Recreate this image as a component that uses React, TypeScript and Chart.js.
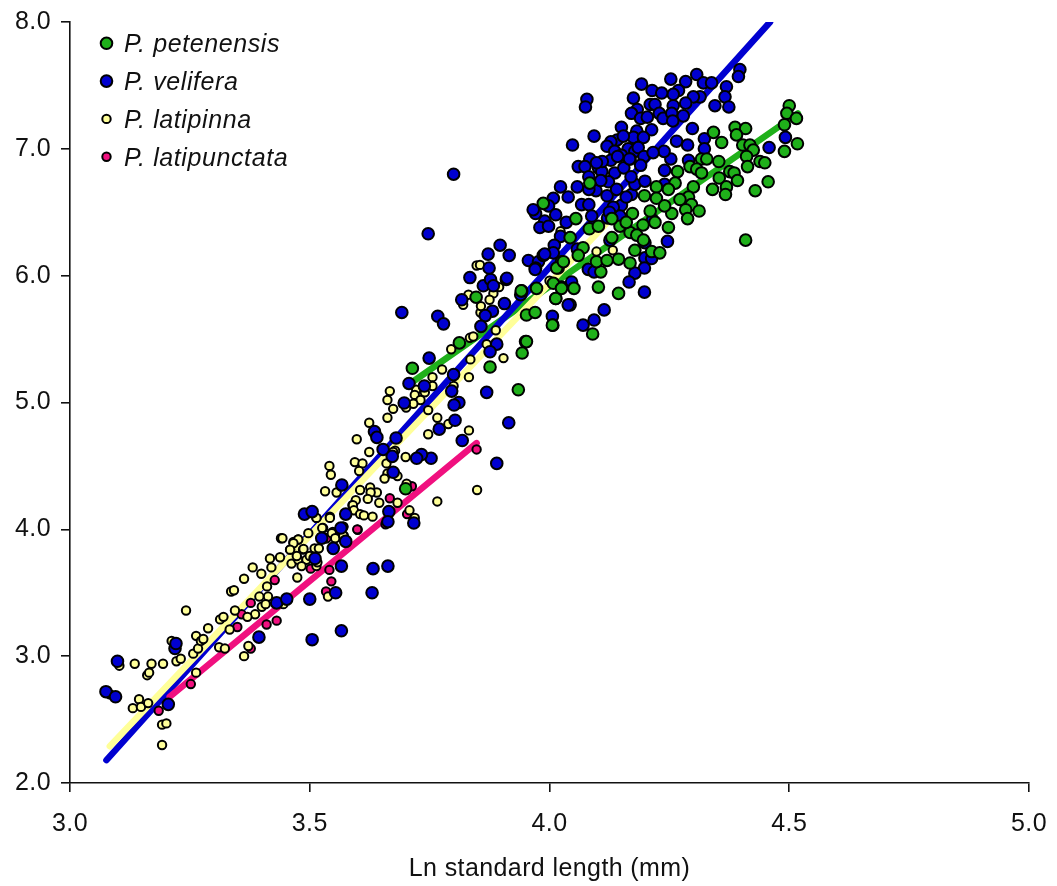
import React, { useEffect, useRef } from "react";
import { Chart, registerables } from "chart.js";

Chart.register(...registerables);

const xAxisTitle = "Ln standard length (mm)";
const speciesNames = ["P. petenensis", "P. velifera", "P. latipinna", "P. latipunctata"];
const speciesColors = ["#1fb01a", "#0000d0", "#ffff99", "#f0107f"];
const speciesRadius = [5.8, 5.8, 4.2, 4.2];

const petenensisPoints: number[][] = [
  [4.50,7.34],[4.495,7.28],[4.515,7.24],[4.49,7.19],[4.517,7.04],[4.49,6.98],[4.456,6.74],[4.429,6.67],[4.409,6.28],
  [4.342,7.13],[4.359,7.05],[4.387,7.17],[4.409,7.16],[4.39,7.11],[4.403,7.03],[4.418,7.03],[4.425,6.99],[4.411,6.94],
  [4.439,6.90],[4.449,6.89],[4.413,6.86],[4.353,6.90],[4.376,6.82],[4.385,6.81],[4.354,6.77],[4.392,6.75],[4.369,6.70],
  [4.34,6.68],[4.367,6.64],[4.317,6.92],[4.328,6.92],[4.293,6.86],[4.307,6.84],[4.267,6.82],[4.317,6.81],[4.262,6.73],
  [4.30,6.70],[4.223,6.70],[4.248,6.68],[4.198,6.63],[4.223,6.61],[4.29,6.62],[4.272,6.60],[4.296,6.56],[4.284,6.52],
  [4.312,6.51],[4.288,6.45],[4.255,6.49],[4.248,6.38],[4.173,6.49],[4.21,6.51],[4.147,6.39],[4.168,6.34],[4.182,6.32],
  [4.196,6.28],[4.178,6.20],[4.213,6.19],[4.23,6.18],[4.144,6.13],[4.168,6.10],[4.107,6.03],[4.102,5.91],[4.144,5.86],
  [4.051,5.90],[4.025,5.91],[4.013,5.82],[4.007,5.61],[3.952,5.69],[3.97,5.71],[4.09,5.54],[3.95,5.48],[4.055,6.45],
  [4.083,6.37],[4.102,6.39],[3.987,6.57],[4.084,6.73],[4.043,6.30],[4.018,6.06],[4.025,6.11],[4.098,6.11],[4.008,5.94],
  [3.973,5.90],[3.942,5.88],[3.847,5.83],[3.941,5.88],[4.013,5.82],[4.006,5.61],[3.952,5.48],[3.943,5.39],[3.876,5.28],
  [3.935,5.10],[3.812,5.47],[3.714,5.27],[3.70,4.32],[4.015,6.06],[4.029,6.11],[4.025,5.90],[4.16,6.42],[4.22,6.42],
  [4.13,6.30],[4.07,6.22],[4.06,6.16],[4.12,6.12],[4.195,6.40],[4.24,6.55],[4.13,6.45],
];

const veliferaPoints: number[][] = [
  [4.078,7.39],[4.075,7.33],[4.192,7.51],[4.214,7.46],[4.253,7.55],[4.284,7.53],[4.307,7.586],[4.321,7.52],[4.338,7.52],
  [4.397,7.625],[4.394,7.57],[4.369,7.49],[4.366,7.41],[4.345,7.34],[4.374,7.33],[4.314,7.41],[4.30,7.41],[4.284,7.36],
  [4.269,7.46],[4.258,7.43],[4.234,7.44],[4.175,7.40],[4.183,7.31],[4.21,7.35],[4.22,7.35],[4.258,7.34],[4.171,7.28],
  [4.19,7.24],[4.204,7.25],[4.229,7.28],[4.237,7.24],[4.255,7.28],[4.279,7.26],[4.257,7.22],[4.298,7.16],[4.213,7.15],
  [4.15,7.17],[4.093,7.10],[4.048,7.03],[4.182,7.14],[4.175,7.09],[4.196,7.09],[4.141,7.07],[4.128,7.055],[4.12,7.02],
  [4.136,6.98],[4.154,7.10],[4.164,7.0],[4.178,6.98],[4.185,7.01],[4.197,6.94],[4.168,6.92],[4.128,6.91],[4.084,6.92],
  [4.06,6.86],[4.074,6.86],[4.102,6.85],[4.109,6.82],[4.082,6.78],[4.136,6.81],[4.123,6.74],[4.097,6.67],[4.058,6.70],
  [4.023,6.70],[4.008,6.61],[3.998,6.55],[3.971,6.49],[4.013,6.48],[3.99,6.43],[3.98,6.38],[3.998,6.39],[4.067,6.56],
  [4.082,6.56],[4.15,6.555],[4.133,6.54],[4.147,6.47],[4.171,6.64],[4.178,6.72],[4.199,6.745],[4.24,6.72],[4.24,6.83],
  [4.265,7.06],[4.288,7.03],[4.323,7.08],[4.323,7.00],[4.29,6.91],[4.253,6.92],[4.239,6.98],[4.216,6.97],[4.458,7.01],
  [4.492,7.09],[4.215,6.44],[4.121,6.455],[4.088,6.47],[4.023,6.31],[4.01,6.24],[4.008,6.18],[3.956,6.12],[3.977,6.11],
  [3.987,6.16],[3.971,6.06],[4.058,6.21],[4.081,6.05],[4.093,6.03],[4.126,6.28],[4.199,6.26],[4.246,6.27],[4.199,6.14],
  [4.213,6.135],[4.198,6.06],[4.178,6.02],[4.166,5.95],[4.198,5.87],[4.046,5.95],[4.043,5.77],[4.114,5.73],[4.093,5.65],
  [4.07,5.61],[4.006,5.68],[3.692,5.71],[3.767,5.68],[3.779,5.62],[3.817,5.81],[3.862,5.92],[3.877,5.97],[3.883,5.92],
  [3.91,5.97],[3.906,5.78],[3.881,5.72],[3.866,5.685],[3.857,5.60],[3.89,5.46],[3.876,5.40],[3.749,5.35],[3.707,5.15],
  [3.739,5.13],[3.869,5.08],[3.915,4.84],[3.811,5.0],[3.801,4.98],[3.803,4.86],[3.77,4.79],[3.697,4.996],[3.635,4.77],
  [3.64,4.725],[3.818,4.70],[3.89,4.52],[3.753,4.56],[3.733,4.59],[3.723,4.56],[3.68,4.72],[3.653,4.63],[3.672,4.575],
  [3.674,4.45],[3.567,4.35],[3.489,4.12],[3.505,4.14],[3.575,4.12],[3.665,4.14],[3.717,4.05],[3.565,4.01],[3.525,3.93],
  [3.549,3.85],[3.575,3.905],[3.511,3.77],[3.80,5.22],[3.796,5.09],[3.80,6.80],[3.747,6.33],[3.897,6.24],[3.872,6.17],
  [3.916,6.16],[3.874,6.06],[3.834,5.985],[3.911,5.98],[3.94,5.85],[3.97,6.05],[3.99,6.17],[3.966,6.52],[3.566,3.71],[3.50,3.45],
  [3.554,3.50],[3.566,3.20],[3.505,3.13],[3.394,3.15],[3.205,2.62],[3.099,2.96],[3.219,3.06],[3.221,3.10],[3.075,2.72],
  [3.095,2.68],[3.431,3.42],[3.452,3.45],[3.632,3.69],[3.663,3.71],[3.63,3.50],[3.663,4.06],[4.11,6.90],[4.15,6.95],
  [4.098,6.89],[4.155,6.85],[4.19,6.87],[4.17,6.78],[4.12,6.63],[4.14,6.68],[4.16,6.62],[4.107,6.75],[4.082,6.68],
  [4.039,6.62],[4.125,6.50],[4.167,6.92],[4.142,6.94],[4.035,6.42],[4.039,5.77],
];

const latipinnaPoints: number[][] = [
  [3.192,2.30],[3.192,2.46],[3.201,2.47],[3.131,2.59],[3.144,2.66],[3.148,2.60],[3.163,2.63],[3.103,2.925],[3.083,2.70],
  [3.135,2.94],[3.161,2.85],[3.165,2.87],[3.17,2.94],[3.194,2.94],[3.222,2.96],[3.231,2.98],[3.212,3.12],[3.242,3.36],
  [3.257,3.02],[3.267,3.06],[3.263,3.16],[3.273,3.12],[3.278,3.135],[3.288,3.22],[3.313,3.29],[3.32,3.31],[3.311,3.07],
  [3.323,3.06],[3.333,3.21],[3.344,3.36],[3.336,3.51],[3.342,3.52],[3.363,3.61],[3.381,3.70],[3.399,3.65],[3.417,3.77],
  [3.42,3.70],[3.438,3.78],[3.411,3.55],[3.395,3.47],[3.413,3.47],[3.40,3.39],[3.408,3.41],[3.386,3.33],[3.37,3.31],
  [3.363,3.00],[3.372,3.08],[3.462,3.73],[3.474,3.62],[3.476,3.76],[3.486,3.84],[3.493,3.76],[3.483,3.71],[3.514,3.71],
  [3.459,3.84],[3.466,3.90],[3.476,3.92],[3.44,3.93],[3.514,4.09],[3.528,4.01],[3.518,3.85],[3.51,3.85],[3.542,4.10],
  [3.548,3.98],[3.552,3.94],[3.571,3.95],[3.57,4.02],[3.589,4.19],[3.516,3.74],[3.445,3.41],[3.263,2.87],[3.538,3.47],
  [3.831,5.85],[3.82,5.77],[3.895,5.91],[3.883,5.86],[3.856,5.71],[3.888,5.57],[3.904,5.35],[3.832,5.20],[3.756,5.20],
  [3.776,5.26],[3.795,5.42],[3.834,5.51],[3.841,5.52],[3.747,5.35],[3.756,5.13],[3.722,5.10],[3.74,5.08],[3.719,5.06],
  [3.731,5.02],[3.716,4.99],[3.701,4.96],[3.674,4.95],[3.662,5.02],[3.667,5.09],[3.662,4.88],[3.624,4.84],[3.598,4.71],
  [3.766,4.88],[3.789,4.83],[3.747,4.75],[3.832,4.78],[3.849,4.31],[3.766,4.22],[3.70,4.57],[3.624,4.61],[3.594,4.53],
  [3.61,4.52],[3.66,4.52],[3.678,4.62],[3.541,4.50],[3.544,4.43],[3.603,4.46],[3.662,4.44],[3.683,4.42],[3.656,4.40],
  [3.702,4.36],[3.532,4.30],[3.556,4.29],[3.565,4.34],[3.605,4.31],[3.626,4.33],[3.64,4.29],[3.627,4.29],[3.621,4.24],
  [3.645,4.21],[3.596,4.23],[3.59,4.19],[3.592,4.15],[3.605,4.12],[3.613,4.11],[3.631,4.10],[3.708,4.15],[3.719,4.09],
  [3.683,4.21],[3.514,4.09],[3.542,4.09],[3.57,4.02],[3.526,4.01],[3.497,3.97],[3.443,3.93],[3.476,3.92],[3.466,3.89],
  [3.546,3.97],[3.553,3.93],[3.57,3.95],[3.487,3.845],[3.519,3.85],[3.459,3.84],[3.473,3.79],[3.50,3.79],[3.869,5.46],
  [3.835,5.34],[3.80,5.13],[3.796,5.09],[3.747,4.94],[3.674,4.61],[4.023,6.35],[4.132,6.20],[4.098,6.19],[3.97,5.91],
  [4.0,5.96],[3.848,6.08],[3.855,6.085],[3.875,5.81],[3.857,5.76],
];

const latipunctataPoints: number[][] = [
  [3.185,2.57],[3.252,2.78],[3.349,3.23],[3.358,3.33],[3.377,3.42],[3.377,3.06],[3.41,3.25],[3.431,3.28],[3.427,3.60],
  [3.502,3.69],[3.541,3.68],[3.545,3.59],[3.534,3.51],[3.533,3.93],[3.60,3.997],[3.535,3.93],[3.599,4.0],[3.658,4.04],
  [3.703,4.12],[3.667,4.245],[3.713,4.34],[3.848,4.63],
];

const petenensisLine = [[3.702,5.13],[4.518,7.28]];
const veliferaLine = [[3.076,2.18],[4.46,8.0]];
const latipinnaLine = [[3.083,2.29],[4.131,6.46]];
const latipunctataLine = [[3.208,2.68],[3.848,4.68]];

const toXY = (rows: number[][]) => rows.map(([x, y]) => ({ x, y }));

const pointSets = [petenensisPoints, veliferaPoints, latipinnaPoints, latipunctataPoints];
// drawn bottom to top: lines sit above the markers, green line on top
const lineOrder = [3, 2, 1, 0];
const lineSets = [petenensisLine, veliferaLine, latipinnaLine, latipunctataLine];

const FONT = '"Liberation Sans", Arial, sans-serif';
const FONT_SIZE = 25;

const insideLegend = {
  id: "insideLegend",
  beforeDraw(chart: any) {
    chart.ctx.letterSpacing = "0.4px";
  },
  afterDraw(chart: any) {
    const { ctx } = chart;
    ctx.save();
    speciesNames.forEach((name, i) => {
      const y = 43.3 + i * 37.8;
      ctx.beginPath();
      ctx.arc(106.5, y, speciesRadius[i], 0, Math.PI * 2);
      ctx.fillStyle = speciesColors[i];
      ctx.fill();
      ctx.lineWidth = 2;
      ctx.strokeStyle = "#000";
      ctx.stroke();
      ctx.fillStyle = "#111";
      ctx.font = `italic ${FONT_SIZE}px ${FONT}`;
      ctx.letterSpacing = "0.6px";
      ctx.textAlign = "left";
      ctx.textBaseline = "middle";
      ctx.fillText(name, 124, y + 2);
    });
    ctx.restore();
  },
};

export default function App() {
  const ref = useRef<HTMLCanvasElement>(null);
  useEffect(() => {
    document.body.style.margin = "0";
    const pointDatasets = pointSets.map((rows, i) => ({
      label: speciesNames[i],
      data: toXY(rows),
      backgroundColor: speciesColors[i],
      pointBackgroundColor: speciesColors[i],
      pointBorderColor: "#000",
      pointBorderWidth: 2,
      pointRadius: speciesRadius[i],
      showLine: false,
    }));
    const lineDatasets = lineOrder.map((i) => ({
      label: speciesNames[i] + " fit",
      data: toXY(lineSets[i]),
      borderColor: speciesColors[i],
      backgroundColor: speciesColors[i],
      borderWidth: 6.5,
      borderCapStyle: "round" as const,
      pointRadius: 0,
      showLine: true,
    }));
    const tickFont = { family: FONT, size: FONT_SIZE };
    const chart = new Chart(ref.current!, {
      type: "scatter",
      data: { datasets: [...pointDatasets, ...lineDatasets] as any },
      plugins: [insideLegend],
      options: {
        responsive: false,
        animation: false,
        layout: { padding: { top: 22, right: 28, left: 0, bottom: 0 } },
        plugins: { legend: { display: false }, tooltip: { enabled: false } },
        scales: {
          x: {
            type: "linear",
            min: 3,
            max: 5,
            afterFit: (s: any) => { s.height = 103; s.paddingLeft = 0; s.paddingRight = 0; },
            ticks: {
              stepSize: 0.5,
              color: "#111",
              font: tickFont,
              padding: 17,
              maxRotation: 0,
              callback: (v: any) => Number(v).toFixed(1),
            },
            grid: { drawOnChartArea: false, drawTicks: true, tickLength: 9, color: "#111", lineWidth: 1.6 },
            border: { display: true, color: "#111", width: 1.6 },
            title: { display: true, text: xAxisTitle, color: "#111", font: tickFont, padding: { top: 6, bottom: 2 } },
          },
          y: {
            type: "linear",
            min: 2,
            max: 8,
            afterFit: (s: any) => { s.width = 70; s.paddingTop = 0; s.paddingBottom = 0; },
            ticks: {
              stepSize: 1,
              color: "#111",
              font: tickFont,
              padding: 10,
              callback: (v: any) => Number(v).toFixed(1),
            },
            grid: { drawOnChartArea: false, drawTicks: true, tickLength: 9, color: "#111", lineWidth: 1.6 },
            border: { display: true, color: "#111", width: 1.6 },
          },
        },
      },
    });
    return () => chart.destroy();
  }, []);
  return <canvas ref={ref} width={1057} height={886} style={{ display: "block" }} />;
}
